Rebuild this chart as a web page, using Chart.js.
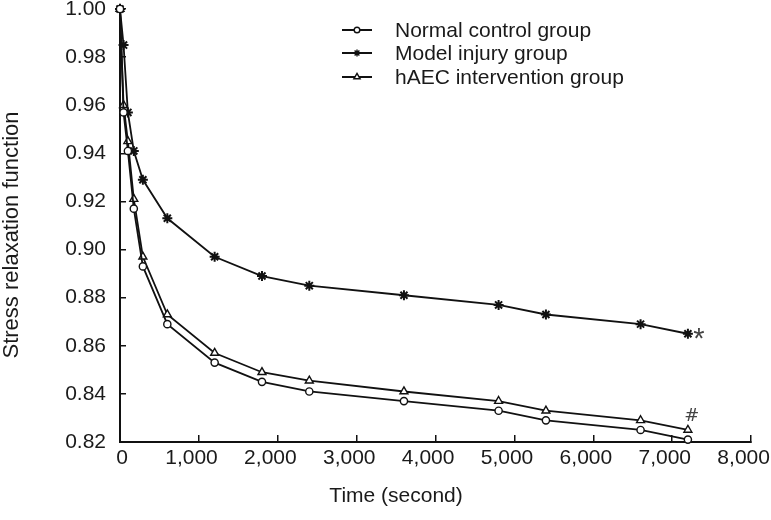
<!DOCTYPE html>
<html>
<head>
<meta charset="utf-8">
<script src="https://cdn.jsdelivr.net/npm/chart.js@4.4.1/dist/chart.umd.min.js"></script>
<style>
  html, body { margin: 0; padding: 0; background: #fff; }
  #wrap { width: 771px; height: 520px; position: relative; }
</style>
</head>
<body>
<div id="wrap"><canvas id="chart"></canvas></div>
<script>
// Values
const timeSeconds = [0, 45, 100, 175, 290, 600, 1200, 1800, 2400, 3600, 4800, 5400, 6600, 7200];
const normalControl = [1.000, 0.957, 0.941, 0.917, 0.893, 0.869, 0.853, 0.845, 0.841, 0.837, 0.833, 0.829, 0.825, 0.821];
const modelInjury = [1.000, 0.985, 0.957, 0.941, 0.929, 0.913, 0.897, 0.889, 0.885, 0.881, 0.877, 0.873, 0.869, 0.865];
const haecIntervention = [1.000, 0.960, 0.945, 0.921, 0.897, 0.873, 0.857, 0.849, 0.8455, 0.841, 0.837, 0.833, 0.829, 0.825];
const seriesLabels = ["Normal control group", "Model injury group", "hAEC intervention group"];
const seriesMarkers = ["circle", "star", "triangle"];
const xAxisTitle = "Time (second)";
const yAxisTitle = "Stress relaxation function";

const FONT = "'Liberation Sans', Arial, sans-serif";
const INK = "#111";
const TEXT = "#1a1a1a";

function toPoints(values) {
  return timeSeconds.map((t, i) => ({ x: t, y: values[i] }));
}

function makeDataset(label, values, marker, radius) {
  return {
    label: label,
    data: toPoints(values),
    borderColor: INK,
    borderWidth: 1.8,
    pointStyle: marker,
    pointRadius: radius,
    pointBorderWidth: marker === "star" ? 2 : 1.4,
    pointBorderColor: INK,
    pointBackgroundColor: "#fff",
    tension: 0,
    fill: false,
    clip: false,
  };
}

/**
 * Legend drawn inside the plot, a short line with its marker then the label.
 */
const insideLegend = {
  id: "insideLegend",
  afterDraw(chart) {
    const ctx = chart.ctx;
    const rowY = [30, 53, 77];
    const sizes = [2.8, 3.4, 3.6];
    ctx.save();
    chart.data.datasets.forEach((ds, i) => {
      const y = rowY[i];
      ctx.strokeStyle = INK;
      ctx.lineWidth = 2;
      ctx.beginPath();
      ctx.moveTo(342, y);
      ctx.lineTo(372, y);
      ctx.stroke();
      ctx.fillStyle = "#fff";
      ctx.lineWidth = 1.4;
      Chart.helpers.drawPoint(ctx, {
        pointStyle: ds.pointStyle, radius: sizes[i], borderWidth: 1.4, rotation: 0,
      }, 357, y);
      ctx.fillStyle = TEXT;
      ctx.font = "21px " + FONT;
      ctx.textAlign = "left";
      ctx.textBaseline = "middle";
      ctx.fillText(ds.label, 395, y + 1);
    });
    ctx.restore();
  },
};

/**
 * Significance marks next to the last points, plus both axis titles.
 */
const extraText = {
  id: "extraText",
  afterDraw(chart) {
    const ctx = chart.ctx;
    const xs = chart.scales.x;
    const ys = chart.scales.y;
    const last = timeSeconds.length - 1;
    const px = xs.getPixelForValue(timeSeconds[last]);
    ctx.save();
    ctx.fillStyle = "#444";
    ctx.textAlign = "center";
    ctx.textBaseline = "alphabetic";
    ctx.font = "29px " + FONT;
    ctx.fillText("*", px + 11, ys.getPixelForValue(modelInjury[last]) + 14);
    ctx.font = "18px 'DejaVu Sans', " + FONT;
    ctx.fillText("#", px + 4, ys.getPixelForValue(haecIntervention[last]) - 9);

    ctx.fillStyle = TEXT;
    ctx.font = "21px " + FONT;
    ctx.textBaseline = "middle";
    ctx.fillText(xAxisTitle, xs.getPixelForValue(3500), 496);

    ctx.translate(12, 235);
    ctx.rotate(-Math.PI / 2);
    ctx.font = "22px " + FONT;
    ctx.fillText(yAxisTitle, 0, 0);
    ctx.restore();
  },
};

new Chart(document.getElementById("chart"), {
  type: "line",
  data: {
    datasets: [
      makeDataset(seriesLabels[0], normalControl, seriesMarkers[0], 3.6),
      makeDataset(seriesLabels[1], modelInjury, seriesMarkers[1], 5),
      makeDataset(seriesLabels[2], haecIntervention, seriesMarkers[2], 4.6),
    ],
  },
  options: {
    responsive: true,
    maintainAspectRatio: false,
    animation: false,
    layout: { padding: { left: 0, right: 20, top: 9, bottom: 0 } },
    plugins: {
      legend: { display: false },
      tooltip: { enabled: false },
    },
    scales: {
      x: {
        type: "linear",
        min: 0,
        max: 8000,
        grid: { drawOnChartArea: false, drawTicks: true, tickLength: -7, color: INK, lineWidth: 1.5 },
        border: { display: true, color: INK, width: 2 },
        ticks: {
          stepSize: 1000,
          padding: 11,
          maxRotation: 0,
          color: TEXT,
          font: { family: FONT, size: 21 },
          // labels in the figure sit a little left of their ticks
          callback: (v) => v === 0 ? "\u20090" : Number(v).toLocaleString("en-US") + "\u2002\u2009",
        },
        afterFit(scale) {
          scale.height = 78;
          scale.paddingLeft = 0;
          scale.paddingRight = 0;
        },
      },
      y: {
        type: "linear",
        min: 0.82,
        max: 1.0,
        grid: { drawOnChartArea: false, drawTicks: true, tickLength: -6, color: INK, lineWidth: 1.5 },
        border: { display: true, color: INK, width: 2 },
        ticks: {
          stepSize: 0.02,
          padding: 20,
          color: TEXT,
          font: { family: FONT, size: 21 },
          callback: (v) => Number(v).toFixed(2),
        },
        afterFit(scale) {
          scale.width = 120;
          scale.paddingTop = 0;
          scale.paddingBottom = 0;
        },
      },
    },
  },
  plugins: [insideLegend, extraText],
});
</script>
</body>
</html>
